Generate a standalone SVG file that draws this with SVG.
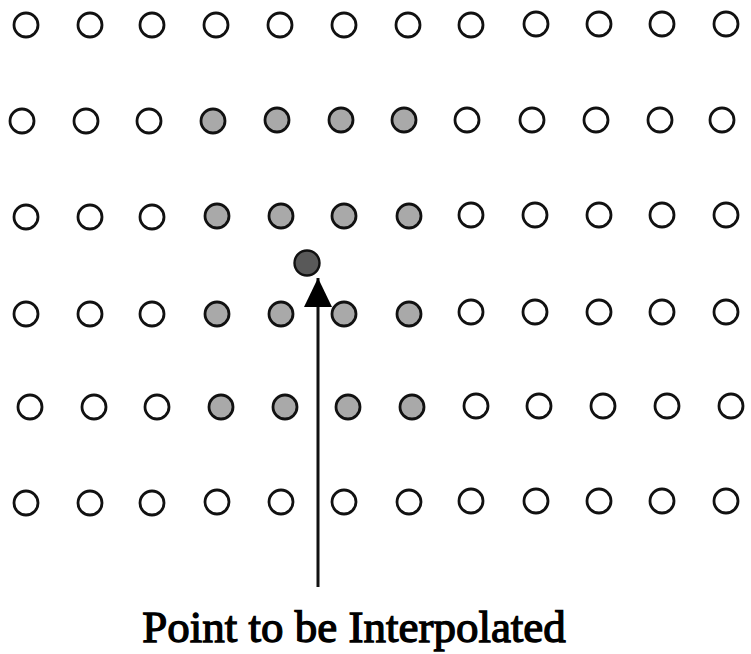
<svg xmlns="http://www.w3.org/2000/svg" width="751" height="654" viewBox="0 0 751 654">
<style>
.pt{fill:#ffffff;stroke:#111;stroke-width:2.8}
.nb{fill:#a9a9a9;stroke:#111;stroke-width:2.8}
.tg{fill:#595959;stroke:#111;stroke-width:2.4}
.lbl{font-family:"Liberation Serif","Times New Roman",serif;font-size:45px;fill:#000;stroke:#000;stroke-width:1.3}
</style>
<defs>
<marker id="ah" viewBox="0 0 29 28" refX="29" refY="14" markerWidth="29" markerHeight="28" markerUnits="userSpaceOnUse" orient="auto">
<path d="M0,0 L29,14 L0,28 Z" fill="#000"/>
</marker>
</defs>
<rect width="751" height="654" fill="#fff"/>
<g id="row1">
<circle class="pt" cx="26" cy="25" r="12"/><circle class="pt" cx="90" cy="25" r="12"/><circle class="pt" cx="152" cy="25" r="12"/><circle class="pt" cx="216" cy="25" r="12"/><circle class="pt" cx="280" cy="25" r="12"/><circle class="pt" cx="344" cy="25" r="12"/><circle class="pt" cx="408" cy="25" r="12"/><circle class="pt" cx="471" cy="25" r="12"/><circle class="pt" cx="536" cy="24" r="12"/><circle class="pt" cx="599" cy="24" r="12"/><circle class="pt" cx="662" cy="24" r="12"/><circle class="pt" cx="726" cy="24" r="12"/>
</g>
<g id="row2">
<circle class="pt" cx="22" cy="121" r="12"/><circle class="pt" cx="86" cy="121" r="12"/><circle class="pt" cx="149" cy="121" r="12"/><circle class="nb" cx="213" cy="121" r="12"/><circle class="nb" cx="277" cy="120" r="12"/><circle class="nb" cx="341" cy="120" r="12"/><circle class="nb" cx="404" cy="120" r="12"/><circle class="pt" cx="467" cy="120" r="12"/><circle class="pt" cx="532" cy="120" r="12"/><circle class="pt" cx="596" cy="120" r="12"/><circle class="pt" cx="660" cy="120" r="12"/><circle class="pt" cx="722" cy="120" r="12"/>
</g>
<g id="row3">
<circle class="pt" cx="26" cy="217" r="12"/><circle class="pt" cx="90" cy="217" r="12"/><circle class="pt" cx="152" cy="217" r="12"/><circle class="nb" cx="217" cy="216" r="12"/><circle class="nb" cx="281" cy="216" r="12"/><circle class="nb" cx="344" cy="216" r="12"/><circle class="nb" cx="409" cy="216" r="12"/><circle class="pt" cx="471" cy="215" r="12"/><circle class="pt" cx="535" cy="215" r="12"/><circle class="pt" cx="599" cy="215" r="12"/><circle class="pt" cx="662" cy="215" r="12"/><circle class="pt" cx="726" cy="215" r="12"/>
</g>
<g id="row4">
<circle class="pt" cx="26" cy="314" r="12"/><circle class="pt" cx="90" cy="314" r="12"/><circle class="pt" cx="152" cy="314" r="12"/><circle class="nb" cx="217" cy="314" r="12"/><circle class="nb" cx="281" cy="314" r="12"/><circle class="nb" cx="344" cy="314" r="12"/><circle class="nb" cx="409" cy="314" r="12"/><circle class="pt" cx="471" cy="312" r="12"/><circle class="pt" cx="535" cy="312" r="12"/><circle class="pt" cx="599" cy="312" r="12"/><circle class="pt" cx="662" cy="312" r="12"/><circle class="pt" cx="726" cy="312" r="12"/>
</g>
<g id="row5">
<circle class="pt" cx="30" cy="407" r="12"/><circle class="pt" cx="94" cy="407" r="12"/><circle class="pt" cx="157" cy="407" r="12"/><circle class="nb" cx="221" cy="407" r="12"/><circle class="nb" cx="285" cy="407" r="12"/><circle class="nb" cx="348" cy="407" r="12"/><circle class="nb" cx="412" cy="407" r="12"/><circle class="pt" cx="476" cy="406" r="12"/><circle class="pt" cx="539" cy="406" r="12"/><circle class="pt" cx="603" cy="406" r="12"/><circle class="pt" cx="667" cy="406" r="12"/><circle class="pt" cx="731" cy="406" r="12"/>
</g>
<g id="row6">
<circle class="pt" cx="26" cy="503" r="12"/><circle class="pt" cx="90" cy="503" r="12"/><circle class="pt" cx="152" cy="503" r="12"/><circle class="pt" cx="217" cy="502" r="12"/><circle class="pt" cx="281" cy="502" r="12"/><circle class="pt" cx="344" cy="502" r="12"/><circle class="pt" cx="409" cy="502" r="12"/><circle class="pt" cx="471" cy="501" r="12"/><circle class="pt" cx="536" cy="501" r="12"/><circle class="pt" cx="599" cy="501" r="12"/><circle class="pt" cx="662" cy="501" r="12"/><circle class="pt" cx="726" cy="501" r="12"/>
</g>
<g id="target">
<circle class="tg" cx="307" cy="263" r="12.5"/>
</g>
<g id="connectors">
<line x1="318" y1="587" x2="318" y2="278" stroke="#111" stroke-width="3" marker-end="url(#ah)"/>
</g>
<g id="label">
<text class="lbl" x="354" y="642" text-anchor="middle">Point to be Interpolated</text>
</g>
</svg>
